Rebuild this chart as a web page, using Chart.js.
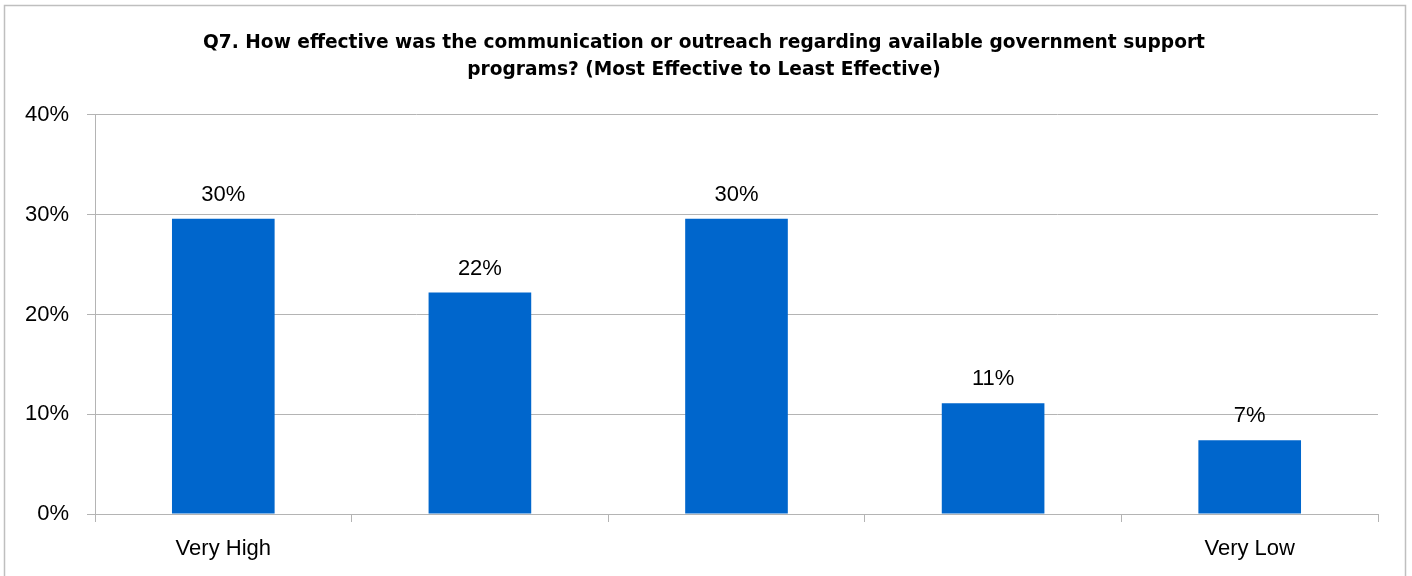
<!DOCTYPE html>
<html lang="en">
<head>
<meta charset="UTF-8" />
<title>Q7 communication effectiveness</title>
<script src="https://cdn.jsdelivr.net/npm/chart.js"></script>
<style>
  body { margin: 0; background: #fff; }
  #wrap { position: relative; width: 1412px; height: 576px; }
</style>
</head>
<body>
<div id="wrap"><canvas id="q7Chart"></canvas></div>
<script>
// categories (only the ends are labelled in the original)
const categories = ['Very High', '', '', '', 'Very Low'];
// share of respondents, %
const shares = [29.6, 22.2, 29.6, 11.1, 7.4];
const yTicks = [0, 10, 20, 30, 40];
const titleLines = [
  'Q7. How effective was the communication or outreach regarding available government support',
  'programs? (Most Effective to Least Effective)'
];

const gridGray = '#b4b4b4';

// outer frame of the chart
const framePlugin = {
  id: 'frame',
  beforeDraw(chart) {
    const ctx = chart.ctx;
    ctx.save();
    ctx.fillStyle = '#fff';
    ctx.fillRect(0, 0, chart.width, chart.height);
    ctx.strokeStyle = '#bfbfbf';
    ctx.lineWidth = 1.5;
    ctx.strokeRect(4.5, 5.5, 1401, 620);
    ctx.restore();
  }
};

// value labels above bars
const valueLabels = {
  id: 'valueLabels',
  afterDatasetsDraw(chart) {
    const ctx = chart.ctx;
    const meta = chart.getDatasetMeta(0);
    ctx.save();
    ctx.font = '22px "Liberation Sans", Arial, sans-serif';
    ctx.fillStyle = '#000';
    ctx.textAlign = 'center';
    ctx.textBaseline = 'alphabetic';
    meta.data.forEach((bar, i) => {
      ctx.fillText(Math.round(shares[i]) + '%', bar.x, bar.y - 18);
    });
    ctx.restore();
  }
};

new Chart(document.getElementById('q7Chart').getContext('2d'), {
  type: 'bar',
  data: {
    labels: categories,
    datasets: [{
      data: shares,
      backgroundColor: '#0066cc',
      categoryPercentage: 1.0,
      barPercentage: 0.4
    }]
  },
  options: {
    responsive: true,
    maintainAspectRatio: false,
    animation: false,
    layout: { padding: { left: 0, right: 4, top: 0, bottom: 0 } },
    plugins: {
      legend: { display: false },
      tooltip: { enabled: false },
      title: {
        display: true,
        text: titleLines,
        color: '#000',
        font: { family: '"DejaVu Sans", Verdana, sans-serif', size: 18.6, weight: 'bold', lineHeight: 1.45 },
        padding: { top: 30, bottom: 31 }
      }
    },
    scales: {
      x: {
        offset: true,
        grid: { offset: true, drawOnChartArea: false, drawTicks: true, tickLength: 8, color: gridGray },
        border: { display: true, color: gridGray },
        ticks: {
          color: '#000',
          padding: 14,
          maxRotation: 0,
          autoSkip: false,
          font: { family: '"Liberation Sans", Arial, sans-serif', size: 22 }
        },
        afterFit(scale) { scale.height = 62; }
      },
      y: {
        min: 0,
        max: 40,
        afterBuildTicks(scale) { scale.ticks = yTicks.map(v => ({ value: v })); },
        grid: { color: gridGray, tickLength: 8 },
        border: { display: true, color: gridGray },
        ticks: {
          color: '#000',
          padding: 18,
          font: { family: '"Liberation Sans", Arial, sans-serif', size: 22 },
          callback: v => v + '%'
        },
        afterFit(scale) { scale.width = 95; }
      },
      // empty right-hand spacer so the plot ends before the frame
      ySpacer: {
        position: 'right',
        min: 0,
        max: 40,
        grid: { drawOnChartArea: false, drawTicks: false },
        border: { display: false },
        ticks: { display: false },
        afterFit(scale) { scale.width = 30; }
      }
    }
  },
  plugins: [framePlugin, valueLabels]
});
</script>
</body>
</html>
